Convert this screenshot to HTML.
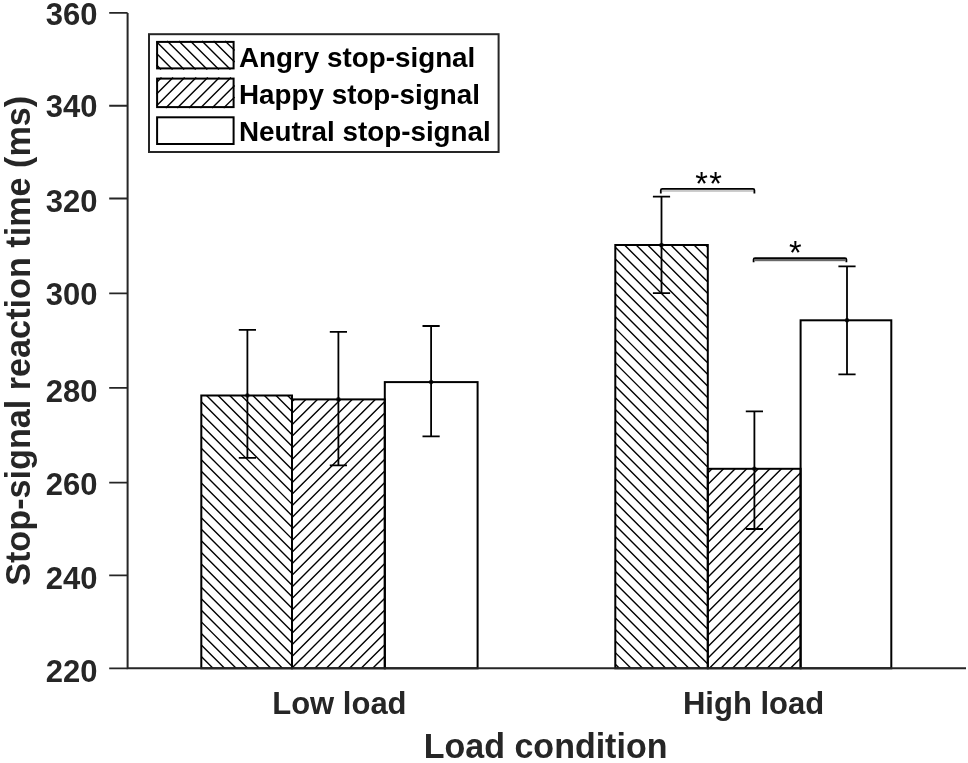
<!DOCTYPE html>
<html><head><meta charset="utf-8"><style>
html,body{margin:0;padding:0;background:#fff;}
body{width:968px;height:763px;overflow:hidden;font-family:"Liberation Sans",sans-serif;}
svg{display:block;filter:blur(0.45px);}
</style></head><body>
<svg width="968" height="763" viewBox="0 0 968 763">
<rect width="968" height="763" fill="#fff"/>
<rect x="201.3" y="395.5" width="90.70" height="272.80" fill="#fff"/>
<path d="M201.30 668.19L201.41 668.30M201.30 656.61L212.99 668.30M201.30 645.03L224.57 668.30M201.30 633.45L236.15 668.30M201.30 621.87L247.73 668.30M201.30 610.29L259.31 668.30M201.30 598.71L270.89 668.30M201.30 587.13L282.47 668.30M201.30 575.55L292.00 666.25M201.30 563.97L292.00 654.67M201.30 552.39L292.00 643.09M201.30 540.81L292.00 631.51M201.30 529.23L292.00 619.93M201.30 517.65L292.00 608.35M201.30 506.07L292.00 596.77M201.30 494.49L292.00 585.19M201.30 482.91L292.00 573.61M201.30 471.33L292.00 562.03M201.30 459.75L292.00 550.45M201.30 448.17L292.00 538.87M201.30 436.59L292.00 527.29M201.30 425.01L292.00 515.71M201.30 413.43L292.00 504.13M201.30 401.85L292.00 492.55M206.53 395.50L292.00 480.97M218.11 395.50L292.00 469.39M229.69 395.50L292.00 457.81M241.27 395.50L292.00 446.23M252.85 395.50L292.00 434.65M264.43 395.50L292.00 423.07M276.01 395.50L292.00 411.49M287.59 395.50L292.00 399.91" stroke="#000" stroke-width="1.4" stroke-dasharray="none" fill="none"/>
<rect x="292.0" y="399.4" width="92.80" height="268.90" fill="#fff"/>
<path d="M294.22 399.40L292.00 401.62M305.80 399.40L292.00 413.20M317.38 399.40L292.00 424.78M328.96 399.40L292.00 436.36M340.54 399.40L292.00 447.94M352.12 399.40L292.00 459.52M363.70 399.40L292.00 471.10M375.28 399.40L292.00 482.68M384.80 401.46L292.00 494.26M384.80 413.04L292.00 505.84M384.80 424.62L292.00 517.42M384.80 436.20L292.00 529.00M384.80 447.78L292.00 540.58M384.80 459.36L292.00 552.16M384.80 470.94L292.00 563.74M384.80 482.52L292.00 575.32M384.80 494.10L292.00 586.90M384.80 505.68L292.00 598.48M384.80 517.26L292.00 610.06M384.80 528.84L292.00 621.64M384.80 540.42L292.00 633.22M384.80 552.00L292.00 644.80M384.80 563.58L292.00 656.38M384.80 575.16L292.00 667.96M384.80 586.74L303.24 668.30M384.80 598.32L314.82 668.30M384.80 609.90L326.40 668.30M384.80 621.48L337.98 668.30M384.80 633.06L349.56 668.30M384.80 644.64L361.14 668.30M384.80 656.22L372.72 668.30M384.80 667.80L384.30 668.30" stroke="#000" stroke-width="1.4" stroke-dasharray="none" fill="none"/>
<rect x="384.8" y="382.1" width="92.80" height="286.20" fill="#fff"/>
<rect x="615.3" y="245.0" width="92.50" height="423.30" fill="#fff"/>
<path d="M615.30 664.20L619.40 668.30M615.30 652.62L630.98 668.30M615.30 641.04L642.56 668.30M615.30 629.46L654.14 668.30M615.30 617.88L665.72 668.30M615.30 606.30L677.30 668.30M615.30 594.72L688.88 668.30M615.30 583.14L700.46 668.30M615.30 571.56L707.80 664.06M615.30 559.98L707.80 652.48M615.30 548.40L707.80 640.90M615.30 536.82L707.80 629.32M615.30 525.24L707.80 617.74M615.30 513.66L707.80 606.16M615.30 502.08L707.80 594.58M615.30 490.50L707.80 583.00M615.30 478.92L707.80 571.42M615.30 467.34L707.80 559.84M615.30 455.76L707.80 548.26M615.30 444.18L707.80 536.68M615.30 432.60L707.80 525.10M615.30 421.02L707.80 513.52M615.30 409.44L707.80 501.94M615.30 397.86L707.80 490.36M615.30 386.28L707.80 478.78M615.30 374.70L707.80 467.20M615.30 363.12L707.80 455.62M615.30 351.54L707.80 444.04M615.30 339.96L707.80 432.46M615.30 328.38L707.80 420.88M615.30 316.80L707.80 409.30M615.30 305.22L707.80 397.72M615.30 293.64L707.80 386.14M615.30 282.06L707.80 374.56M615.30 270.48L707.80 362.98M615.30 258.90L707.80 351.40M615.30 247.32L707.80 339.82M624.56 245.00L707.80 328.24M636.14 245.00L707.80 316.66M647.72 245.00L707.80 305.08M659.30 245.00L707.80 293.50M670.88 245.00L707.80 281.92M682.46 245.00L707.80 270.34M694.04 245.00L707.80 258.76M705.62 245.00L707.80 247.18" stroke="#000" stroke-width="1.4" stroke-dasharray="none" fill="none"/>
<rect x="707.8" y="468.8" width="92.80" height="199.50" fill="#fff"/>
<path d="M712.01 468.80L707.80 473.01M723.59 468.80L707.80 484.59M735.17 468.80L707.80 496.17M746.75 468.80L707.80 507.75M758.33 468.80L707.80 519.33M769.91 468.80L707.80 530.91M781.49 468.80L707.80 542.49M793.07 468.80L707.80 554.07M800.60 472.85L707.80 565.65M800.60 484.43L707.80 577.23M800.60 496.01L707.80 588.81M800.60 507.59L707.80 600.39M800.60 519.17L707.80 611.97M800.60 530.75L707.80 623.55M800.60 542.33L707.80 635.13M800.60 553.91L707.80 646.71M800.60 565.49L707.80 658.29M800.60 577.07L709.37 668.30M800.60 588.65L720.95 668.30M800.60 600.23L732.53 668.30M800.60 611.81L744.11 668.30M800.60 623.39L755.69 668.30M800.60 634.97L767.27 668.30M800.60 646.55L778.85 668.30M800.60 658.13L790.43 668.30" stroke="#000" stroke-width="1.4" stroke-dasharray="none" fill="none"/>
<rect x="800.6" y="320.3" width="90.70" height="348.00" fill="#fff"/>
<rect x="201.3" y="395.5" width="90.70" height="272.80" fill="none" stroke="#000" stroke-width="2"/>
<rect x="292.0" y="399.4" width="92.80" height="268.90" fill="none" stroke="#000" stroke-width="2"/>
<rect x="384.8" y="382.1" width="92.80" height="286.20" fill="none" stroke="#000" stroke-width="2"/>
<rect x="615.3" y="245.0" width="92.50" height="423.30" fill="none" stroke="#000" stroke-width="2"/>
<rect x="707.8" y="468.8" width="92.80" height="199.50" fill="none" stroke="#000" stroke-width="2"/>
<rect x="800.6" y="320.3" width="90.70" height="348.00" fill="none" stroke="#000" stroke-width="2"/>
<path d="M247.4 329.8V457.8M238.8 329.8H256.0M238.8 457.8H256.0" stroke="#000" stroke-width="1.8" fill="none"/>
<circle cx="247.4" cy="395.5" r="2.3" fill="#000" fill-opacity="0.75"/>
<path d="M338.4 331.9V465.3M329.79999999999995 331.9H347.0M329.79999999999995 465.3H347.0" stroke="#000" stroke-width="1.8" fill="none"/>
<circle cx="338.4" cy="399.4" r="2.3" fill="#000" fill-opacity="0.75"/>
<path d="M431.1 326.0V436.3M422.5 326.0H439.70000000000005M422.5 436.3H439.70000000000005" stroke="#000" stroke-width="1.8" fill="none"/>
<circle cx="431.1" cy="382.1" r="2.3" fill="#000" fill-opacity="0.75"/>
<path d="M661.5 196.6V293.1M652.9 196.6H670.1M652.9 293.1H670.1" stroke="#000" stroke-width="1.8" fill="none"/>
<circle cx="661.5" cy="245.0" r="2.3" fill="#000" fill-opacity="0.75"/>
<path d="M754.4 411.3V529.0M745.8 411.3H763.0M745.8 529.0H763.0" stroke="#000" stroke-width="1.8" fill="none"/>
<circle cx="754.4" cy="468.8" r="2.3" fill="#000" fill-opacity="0.75"/>
<path d="M847.0 266.3V374.4M838.4 266.3H855.6M838.4 374.4H855.6" stroke="#000" stroke-width="1.8" fill="none"/>
<circle cx="847.0" cy="320.3" r="2.3" fill="#000" fill-opacity="0.75"/>
<path d="M127.6 12.91V668.3H966" stroke="#262626" stroke-width="2" fill="none"/>
<path d="M109.2 668.30H127.6M109.2 575.45H127.6M109.2 482.66H127.6M109.2 387.96H127.6M109.2 293.30H127.6M109.2 198.50H127.6M109.2 105.75H127.6M109.2 12.91H127.6" stroke="#262626" stroke-width="1.8" fill="none"/>
<text x="97.4" y="682.05" text-anchor="end" font-family="Liberation Sans" font-weight="bold" font-size="31" fill="#262626">220</text>
<text x="97.4" y="589.05" text-anchor="end" font-family="Liberation Sans" font-weight="bold" font-size="31" fill="#262626">240</text>
<text x="97.4" y="494.55" text-anchor="end" font-family="Liberation Sans" font-weight="bold" font-size="31" fill="#262626">260</text>
<text x="97.4" y="401.75" text-anchor="end" font-family="Liberation Sans" font-weight="bold" font-size="31" fill="#262626">280</text>
<text x="97.4" y="305.15" text-anchor="end" font-family="Liberation Sans" font-weight="bold" font-size="31" fill="#262626">300</text>
<text x="97.4" y="212.05" text-anchor="end" font-family="Liberation Sans" font-weight="bold" font-size="31" fill="#262626">320</text>
<text x="97.4" y="117.25" text-anchor="end" font-family="Liberation Sans" font-weight="bold" font-size="31" fill="#262626">340</text>
<text x="97.4" y="24.90" text-anchor="end" font-family="Liberation Sans" font-weight="bold" font-size="31" fill="#262626">360</text>
<text x="339.4" y="713.9" text-anchor="middle" font-family="Liberation Sans" font-weight="bold" font-size="31" fill="#262626">Low load</text>
<text x="753.6" y="713.9" text-anchor="middle" font-family="Liberation Sans" font-weight="bold" font-size="31" fill="#262626">High load</text>
<text transform="translate(545.6,757.8) scale(1,1.05)" x="0" y="0" text-anchor="middle" font-family="Liberation Sans" font-weight="bold" font-size="34" fill="#262626">Load condition</text>
<text transform="translate(30,340.8) rotate(-90) scale(1,1.04)" x="0" y="0" text-anchor="middle" font-family="Liberation Sans" font-weight="bold" font-size="34.2" fill="#262626">Stop-signal reaction time (ms)</text>
<rect x="662" y="189.7" width="91.5" height="2.2" fill="#c8c8c8"/>
<path d="M660.8 193.6V190.3Q660.8 188.85 662.3 188.85H753.0Q754.4 188.85 754.4 190.3V193.6" stroke="#000" stroke-width="1.8" fill="none"/>
<rect x="754.8" y="259" width="90.5" height="2.2" fill="#6a6a6a"/>
<path d="M753.6 262.3V259.6Q753.6 258.15 755.0 258.15H845.0Q846.4 258.15 846.4 259.6V262.3" stroke="#000" stroke-width="1.8" fill="none"/>
<text x="695.3" y="194.75" letter-spacing="1.35" font-family="Liberation Sans" font-size="32.5" fill="#000">**</text>
<text x="788.9" y="264.2" font-family="Liberation Sans" font-size="32.5" fill="#000">*</text>
<rect x="149" y="34.2" width="349.6" height="117.8" fill="#fff" stroke="#262626" stroke-width="2"/>
<path d="M156.60 65.02L160.98 69.40M156.60 53.44L172.56 69.40M156.60 41.86L184.14 69.40M167.22 40.90L195.72 69.40M178.80 40.90L207.30 69.40M190.38 40.90L218.88 69.40M201.96 40.90L230.46 69.40M213.54 40.90L234.60 61.96M225.12 40.90L234.60 50.38" stroke="#000" stroke-width="1.4" stroke-dasharray="none" fill="none"/>
<rect x="157.1" y="41.9" width="76.5" height="26.50" fill="none" stroke="#000" stroke-width="2"/>
<path d="M161.49 77.60L156.60 82.49M173.07 77.60L156.60 94.07M184.65 77.60L156.60 105.65M196.23 77.60L165.73 108.10M207.81 77.60L177.31 108.10M219.39 77.60L188.89 108.10M230.97 77.60L200.47 108.10M234.60 85.55L212.05 108.10M234.60 97.13L223.63 108.10" stroke="#000" stroke-width="1.4" stroke-dasharray="none" fill="none"/>
<rect x="157.1" y="78.6" width="76.5" height="28.50" fill="none" stroke="#000" stroke-width="2"/>
<rect x="157.1" y="117.3" width="76.5" height="26.70" fill="none" stroke="#000" stroke-width="2"/>
<text x="239" y="67.4" font-family="Liberation Sans" font-weight="bold" font-size="27.8" fill="#000">Angry stop-signal</text>
<text x="239" y="104.1" font-family="Liberation Sans" font-weight="bold" font-size="27.8" fill="#000">Happy stop-signal</text>
<text x="239" y="141.0" font-family="Liberation Sans" font-weight="bold" font-size="27.8" fill="#000">Neutral stop-signal</text>
</svg>
</body></html>
